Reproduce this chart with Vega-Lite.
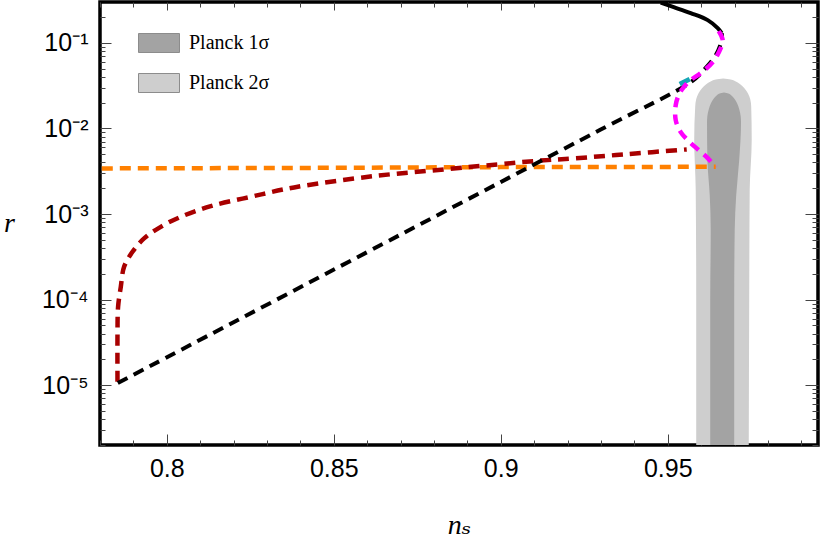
{
  "$schema": "https://vega.github.io/schema/vega-lite/v6.json",
  "width": 718,
  "height": 443,
  "autosize": "none",
  "padding": {"left": 100, "top": 2, "right": 8, "bottom": 105},
  "background": "white",
  "config": {
    "view": {"stroke": "black", "strokeWidth": 3.5},
    "axis": {
      "domain": false,
      "grid": false,
      "labelFont": "Liberation Sans, Arial, sans-serif",
      "labelFontSize": 25,
      "labelColor": "black",
      "tickColor": "#444",
      "tickWidth": 1,
      "titleFont": "'Liberation Serif', 'DejaVu Serif', serif",
      "titleFontStyle": "italic",
      "titleFontWeight": "normal",
      "titleFontSize": 28,
      "titleColor": "black"
    }
  },
  "datasets": {
    "curves": [
      {"s": "bd", "i": 0, "ns": 0.78533, "r": 1.059e-5},
      {"s": "bd", "i": 1, "ns": 0.87006, "r": 5.762e-4},
      {"s": "bd", "i": 2, "ns": 0.92994, "r": 0.009708},
      {"s": "bd", "i": 3, "ns": 0.956886, "r": 0.034743},
      {"s": "bd", "i": 4, "ns": 0.960778, "r": 0.047979},
      {"s": "bd", "i": 5, "ns": 0.964371, "r": 0.071816},
      {"s": "bd", "i": 6, "ns": 0.966168, "r": 0.10753},
      {"s": "bd", "i": 7, "ns": 0.966168, "r": 0.12983},
      {"s": "bs", "i": 0, "ns": 0.966168, "r": 0.12983},
      {"s": "bs", "i": 1, "ns": 0.96497, "r": 0.14847},
      {"s": "bs", "i": 2, "ns": 0.961976, "r": 0.18413},
      {"s": "bs", "i": 3, "ns": 0.956886, "r": 0.22233},
      {"s": "bs", "i": 4, "ns": 0.951796, "r": 0.26124},
      {"s": "bs", "i": 5, "ns": 0.947904, "r": 0.29491},
      {"s": "mg", "i": 0, "ns": 0.965269, "r": 0.13698},
      {"s": "mg", "i": 1, "ns": 0.966467, "r": 0.10753},
      {"s": "mg", "i": 2, "ns": 0.965868, "r": 0.086703},
      {"s": "mg", "i": 3, "ns": 0.963473, "r": 0.059506},
      {"s": "mg", "i": 4, "ns": 0.95988, "r": 0.044265},
      {"s": "mg", "i": 5, "ns": 0.956886, "r": 0.036664},
      {"s": "mg", "i": 6, "ns": 0.95479, "r": 0.030369},
      {"s": "mg", "i": 7, "ns": 0.953293, "r": 0.024488},
      {"s": "mg", "i": 8, "ns": 0.952395, "r": 0.018717},
      {"s": "mg", "i": 9, "ns": 0.952395, "r": 0.0125},
      {"s": "mg", "i": 10, "ns": 0.953892, "r": 0.009053},
      {"s": "mg", "i": 11, "ns": 0.956287, "r": 0.0071048},
      {"s": "mg", "i": 12, "ns": 0.959281, "r": 0.0055783},
      {"s": "mg", "i": 13, "ns": 0.961976, "r": 0.0044981},
      {"s": "mg", "i": 14, "ns": 0.964371, "r": 0.003531},
      {"s": "rd", "i": 0, "ns": 0.78524, "r": 1.0958e-5},
      {"s": "rd", "i": 1, "ns": 0.78524, "r": 4.0613e-5},
      {"s": "rd", "i": 2, "ns": 0.785419, "r": 8.2398e-5},
      {"s": "rd", "i": 3, "ns": 0.786228, "r": 1.4112e-4},
      {"s": "rd", "i": 4, "ns": 0.787216, "r": 2.4161e-4},
      {"s": "rd", "i": 5, "ns": 0.789731, "r": 3.6174e-4},
      {"s": "rd", "i": 6, "ns": 0.793204, "r": 5.1863e-4},
      {"s": "rd", "i": 7, "ns": 0.798204, "r": 7.0857e-4},
      {"s": "rd", "i": 8, "ns": 0.804192, "r": 9.2738e-4},
      {"s": "rd", "i": 9, "ns": 0.813174, "r": 0.0012367},
      {"s": "rd", "i": 10, "ns": 0.82515, "r": 0.0015883},
      {"s": "rd", "i": 11, "ns": 0.838114, "r": 0.002045},
      {"s": "rd", "i": 12, "ns": 0.862066, "r": 0.0027722},
      {"s": "rd", "i": 13, "ns": 0.884042, "r": 0.0033459},
      {"s": "rd", "i": 14, "ns": 0.899012, "r": 0.0037967},
      {"s": "rd", "i": 15, "ns": 0.910988, "r": 0.0041829},
      {"s": "rd", "i": 16, "ns": 0.921946, "r": 0.0044619},
      {"s": "rd", "i": 17, "ns": 0.937934, "r": 0.0050092},
      {"s": "rd", "i": 18, "ns": 0.955689, "r": 0.0056846},
      {"s": "og", "i": 0, "ns": 0.780539, "r": 0.0034095},
      {"s": "og", "i": 1, "ns": 0.84012, "r": 0.0034556},
      {"s": "og", "i": 2, "ns": 0.9, "r": 0.003531},
      {"s": "og", "i": 3, "ns": 0.964371, "r": 0.0035596},
      {"s": "cy", "i": 0, "ns": 0.953593, "r": 0.032922},
      {"s": "cy", "i": 1, "ns": 0.956587, "r": 0.037663}
    ],
    "bands": [
      {"band": "Planck 2σ", "r": 1e-6, "ns": 0.958533, "ns_hi": 0.974251},
      {"band": "Planck 2σ", "r": 9.8664e-5, "ns": 0.958533, "ns_hi": 0.974401},
      {"band": "Planck 2σ", "r": 0.001902, "ns": 0.958383, "ns_hi": 0.974551},
      {"band": "Planck 2σ", "r": 0.0072999, "ns": 0.957934, "ns_hi": 0.97515},
      {"band": "Planck 2σ", "r": 0.018066, "ns": 0.958234, "ns_hi": 0.975},
      {"band": "Planck 2σ", "r": 0.021817, "ns": 0.958503, "ns_hi": 0.974731},
      {"band": "Planck 2σ", "r": 0.025636, "ns": 0.959192, "ns_hi": 0.974042},
      {"band": "Planck 2σ", "r": 0.02933, "ns": 0.96021, "ns_hi": 0.973024},
      {"band": "Planck 2σ", "r": 0.032657, "ns": 0.961437, "ns_hi": 0.971796},
      {"band": "Planck 2σ", "r": 0.0354, "ns": 0.962844, "ns_hi": 0.970389},
      {"band": "Planck 2σ", "r": 0.037359, "ns": 0.964401, "ns_hi": 0.968832},
      {"band": "Planck 2σ", "r": 0.038378, "ns": 0.966617, "ns_hi": 0.966617},
      {"band": "Planck 1σ", "r": 1e-6, "ns": 0.962725, "ns_hi": 0.96991},
      {"band": "Planck 1σ", "r": 9.8664e-5, "ns": 0.962725, "ns_hi": 0.96991},
      {"band": "Planck 1σ", "r": 6.4842e-4, "ns": 0.962874, "ns_hi": 0.97006},
      {"band": "Planck 1σ", "r": 0.0016626, "ns": 0.962575, "ns_hi": 0.970509},
      {"band": "Planck 1σ", "r": 0.0042632, "ns": 0.961886, "ns_hi": 0.971407},
      {"band": "Planck 1σ", "r": 0.011751, "ns": 0.961766, "ns_hi": 0.971946},
      {"band": "Planck 1σ", "r": 0.013809, "ns": 0.961856, "ns_hi": 0.971856},
      {"band": "Planck 1σ", "r": 0.016671, "ns": 0.962275, "ns_hi": 0.971437},
      {"band": "Planck 1σ", "r": 0.019592, "ns": 0.962904, "ns_hi": 0.970808},
      {"band": "Planck 1σ", "r": 0.022414, "ns": 0.963802, "ns_hi": 0.96991},
      {"band": "Planck 1σ", "r": 0.024291, "ns": 0.964641, "ns_hi": 0.969072},
      {"band": "Planck 1σ", "r": 0.025636, "ns": 0.965554, "ns_hi": 0.968159},
      {"band": "Planck 1σ", "r": 0.026335, "ns": 0.966856, "ns_hi": 0.966856}
    ]
  },
  "layer": [
    {
      "encoding": {
        "x": {
          "field": "ns", "type": "quantitative",
          "scale": {"domain": [0.78, 0.995], "nice": false, "zero": false},
          "axis": {
            "orient": "bottom",
            "values": [0.78, 0.79, 0.8, 0.81, 0.82, 0.83, 0.84, 0.85, 0.86, 0.87, 0.88, 0.89, 0.9, 0.91, 0.92, 0.93, 0.94, 0.95, 0.96, 0.97, 0.98, 0.99],
            "labelExpr": "abs(datum.value*20 - round(datum.value*20)) < 0.001 ? toString(round(datum.value*100)/100) : ''",
            "tickSize": {"condition": {"test": "abs(datum.value*20 - round(datum.value*20)) < 0.001", "value": -11}, "value": -5},
            "labelPadding": 22,
            "labelFlush": false,
            "labelOverlap": false,
            "title": "nₛ",
            "titleX": 359,
            "titleY": 80,
            "titleAngle": 0,
            "titleAlign": "center",
            "titleBaseline": "middle"
          }
        },
        "y": {
          "field": "r", "type": "quantitative",
          "scale": {"type": "log", "domain": [2e-6, 0.3], "nice": false},
          "axis": {
            "orient": "left",
            "values": [2e-6, 3e-6, 4e-6, 5e-6, 6e-6, 7e-6, 8e-6, 9e-6, 1e-5, 2e-5, 3e-5, 4e-5, 5e-5, 6e-5, 7e-5, 8e-5, 9e-5, 1e-4, 2e-4, 3e-4, 4e-4, 5e-4, 6e-4, 7e-4, 8e-4, 9e-4, 0.001, 0.002, 0.003, 0.004, 0.005, 0.006, 0.007, 0.008, 0.009, 0.01, 0.02, 0.03, 0.04, 0.05, 0.06, 0.07, 0.08, 0.09, 0.1, 0.2],
            "labelExpr": "abs(log(datum.value)/LN10 - round(log(datum.value)/LN10)) < 0.001 ? '10' + (round(log(datum.value)/LN10) == -1 ? '⁻¹' : round(log(datum.value)/LN10) == -2 ? '⁻²' : round(log(datum.value)/LN10) == -3 ? '⁻³' : round(log(datum.value)/LN10) == -4 ? '⁻⁴' : '⁻⁵') : ''",
            "tickSize": {"condition": {"test": "abs(log(datum.value)/LN10 - round(log(datum.value)/LN10)) < 0.001", "value": -11}, "value": -5},
            "labelPadding": 23,
            "labelOverlap": false,
            "title": "r",
            "titleX": -91,
            "titleY": 221,
            "titleAngle": 0,
            "titleAlign": "center",
            "titleBaseline": "middle"
          }
        }
      },
      "layer": [
        {
          "data": {"name": "bands"},
          "transform": [{"filter": "datum.band == 'Planck 2σ'"}],
          "mark": {"type": "area", "orient": "horizontal", "interpolate": "monotone", "clip": true, "opacity": 1},
          "encoding": {
            "x2": {"field": "ns_hi"},
            "color": {
              "field": "band", "type": "nominal",
              "scale": {"domain": ["Planck 1σ", "Planck 2σ"], "range": ["#a3a3a3", "#cecece"]},
              "legend": {
                "orient": "none", "legendX": 38, "legendY": 20, "title": null, "padding": 0,
                "symbolType": "M-1,-0.4634H1V0.4634H-1Z", "symbolSize": 1681,
                "symbolStrokeColor": "#8c8c8c", "symbolStrokeWidth": 1, "symbolOpacity": 1,
                "labelFont": "'Liberation Serif', serif", "labelFontSize": 20, "labelColor": "black",
                "labelOffset": 9, "rowPadding": 7
              }
            }
          }
        },
        {
          "data": {"name": "bands"},
          "transform": [{"filter": "datum.band == 'Planck 1σ'"}],
          "mark": {"type": "area", "orient": "horizontal", "interpolate": "monotone", "clip": true, "opacity": 1},
          "encoding": {
            "x2": {"field": "ns_hi"},
            "color": {"field": "band", "type": "nominal"}
          }
        },
        {
          "data": {"name": "curves"},
          "transform": [{"filter": "datum.s == 'og'"}],
          "mark": {"type": "line", "color": "#ff8000", "strokeWidth": 4.5, "strokeDash": [11, 7], "strokeCap": "butt", "clip": true},
          "encoding": {"order": {"field": "i", "type": "quantitative"}}
        },
        {
          "data": {"name": "curves"},
          "transform": [{"filter": "datum.s == 'rd'"}],
          "mark": {"type": "line", "color": "#a80000", "strokeWidth": 4.5, "strokeDash": [11, 7], "strokeCap": "butt", "interpolate": "catmull-rom", "clip": true},
          "encoding": {"order": {"field": "i", "type": "quantitative"}}
        },
        {
          "data": {"name": "curves"},
          "transform": [{"filter": "datum.s == 'bd'"}],
          "mark": {"type": "line", "color": "black", "strokeWidth": 4, "strokeDash": [11, 7], "strokeCap": "butt", "interpolate": "catmull-rom", "clip": true},
          "encoding": {"order": {"field": "i", "type": "quantitative"}}
        },
        {
          "data": {"name": "curves"},
          "transform": [{"filter": "datum.s == 'bs'"}],
          "mark": {"type": "line", "color": "black", "strokeWidth": 4, "interpolate": "catmull-rom", "clip": true},
          "encoding": {"order": {"field": "i", "type": "quantitative"}}
        },
        {
          "data": {"name": "curves"},
          "transform": [{"filter": "datum.s == 'cy'"}],
          "mark": {"type": "line", "color": "#16a6b6", "strokeWidth": 5, "clip": true},
          "encoding": {"order": {"field": "i", "type": "quantitative"}}
        },
        {
          "data": {"name": "curves"},
          "transform": [{"filter": "datum.s == 'mg'"}],
          "mark": {"type": "line", "color": "#ff00ff", "strokeWidth": 4.5, "strokeDash": [10, 7], "strokeCap": "butt", "interpolate": "catmull-rom", "clip": true},
          "encoding": {"order": {"field": "i", "type": "quantitative"}}
        }
      ]
    },
    {
      "data": {"name": "curves"},
      "mark": {"type": "point", "opacity": 0},
      "encoding": {
        "x": {
          "field": "ns", "type": "quantitative",
          "axis": {
            "orient": "top",
            "values": [0.78, 0.79, 0.8, 0.81, 0.82, 0.83, 0.84, 0.85, 0.86, 0.87, 0.88, 0.89, 0.9, 0.91, 0.92, 0.93, 0.94, 0.95, 0.96, 0.97, 0.98, 0.99],
            "labels": false,
            "title": null,
            "tickSize": {"condition": {"test": "abs(datum.value*20 - round(datum.value*20)) < 0.001", "value": -8}, "value": -5}
          }
        },
        "y": {
          "field": "r", "type": "quantitative",
          "axis": {
            "orient": "right",
            "values": [2e-6, 3e-6, 4e-6, 5e-6, 6e-6, 7e-6, 8e-6, 9e-6, 1e-5, 2e-5, 3e-5, 4e-5, 5e-5, 6e-5, 7e-5, 8e-5, 9e-5, 1e-4, 2e-4, 3e-4, 4e-4, 5e-4, 6e-4, 7e-4, 8e-4, 9e-4, 0.001, 0.002, 0.003, 0.004, 0.005, 0.006, 0.007, 0.008, 0.009, 0.01, 0.02, 0.03, 0.04, 0.05, 0.06, 0.07, 0.08, 0.09, 0.1, 0.2],
            "labels": false,
            "title": null,
            "tickSize": {"condition": {"test": "abs(log(datum.value)/LN10 - round(log(datum.value)/LN10)) < 0.001", "value": -13}, "value": -6}
          }
        }
      }
    }
  ],
  "resolve": {"axis": {"x": "independent", "y": "independent"}}
}
